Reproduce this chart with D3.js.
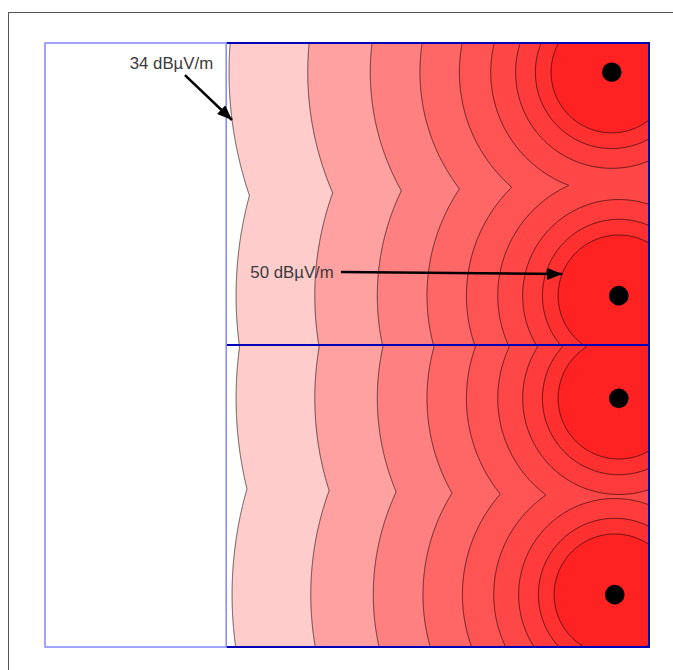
<!DOCTYPE html>
<html>
<head>
<meta charset="utf-8">
<script src="https://cdn.jsdelivr.net/npm/d3@7"></script>
<style>
  body { margin: 0; background: #fff; }
  text { font-family: "Liberation Sans", Arial, sans-serif; }
</style>
</head>
<body>
<script>
// transmitter sites (km) and field strength at 1 km (dBµV/m)
const siteX = [56.3, 57.0, 57.0, 56.6];
const siteY = [2.9, 25.1, 35.3, 54.8];
const siteLevel = [65.6, 65.6, 65.6, 65.6];

// contour levels (dBµV/m) and band fills
const levels = [34, 36, 38, 40, 42, 44, 46, 48, 50];
const fills = ['#ffcccc', '#ffa1a1', '#ff8080', '#ff6666', '#ff5454', '#ff4747', '#ff3b3b', '#ff3030', '#ff2222'];

// service area split lines (km)
const splitX = 18;
const splitY = 30;

// annotations
const labelText = ['34 dBµV/m', '50 dBµV/m'];
const labelLevel = [34, 50];
const labelX = [16.7, 20.4];
const labelY = [2.6, 23.3];
const labelAnchor = ['end', 'start'];
const arrowFromX = [13.9, 29.4];
const arrowFromY = [3.2, 22.75];
const arrowToY = [7.65, 22.95];

const W = 673, H = 670;
const x = d3.scaleLinear().domain([0, 60]).range([45, 649]);
const y = d3.scaleLinear().domain([0, 60]).range([43, 647]);

const svg = d3.select('body').append('svg')
  .attr('width', W)
  .attr('height', H);

svg.append('rect')
  .attr('x', 8.5).attr('y', 12.5)
  .attr('width', 700).attr('height', 700)
  .attr('fill', 'none')
  .attr('stroke', '#555');

function field (kx, ky) {
  let best = -Infinity;
  for (let i = 0; i < siteX.length; i++) {
    const d = Math.max(Math.hypot(kx - siteX[i], ky - siteY[i]), 0.05);
    best = Math.max(best, siteLevel[i] - 20 * Math.log10(d));
  }
  return best;
}

// sample the field, one cell per pixel
const nx = Math.round(x.range()[1] - x.range()[0]);
const ny = Math.round(y.range()[1] - y.range()[0]);
const values = new Float64Array(nx * ny);
for (let j = 0; j < ny; j++) {
  const ky = y.invert(y.range()[0] + j + 0.5);
  for (let i = 0; i < nx; i++) {
    values[j * nx + i] = field(x.invert(x.range()[0] + i + 0.5), ky);
  }
}

const contours = d3.contours().size([nx, ny]).thresholds(levels)(values);

const path = d3.geoPath(d3.geoTransform({
  point (px, py) { this.stream.point(x.range()[0] + px, y.range()[0] + py); }
}));

svg.append('g')
  .selectAll('path')
  .data(contours)
  .join('path')
  .attr('d', path)
  .attr('fill', (d, i) => fills[i])
  .attr('stroke', 'rgba(0,0,0,0.6)')
  .attr('stroke-width', 1);

// area outlines
svg.append('path')
  .attr('d', `M${x(splitX)},${y(0)}H${x(60)}V${y(60)}H${x(splitX)}M${x(splitX)},${y(splitY)}H${x(60)}`)
  .attr('fill', 'none')
  .attr('stroke', '#0000b8')
  .attr('stroke-width', 2);

svg.append('rect')
  .attr('x', x(0)).attr('y', y(0))
  .attr('width', x(splitX) - x(0))
  .attr('height', y(60) - y(0))
  .attr('fill', 'none')
  .attr('stroke', '#8c8cff')
  .attr('stroke-width', 1.6);

// transmitters
svg.append('g')
  .selectAll('circle')
  .data(siteX)
  .join('circle')
  .attr('cx', d => x(d))
  .attr('cy', (d, i) => y(siteY[i]))
  .attr('r', 9.8)
  .attr('fill', '#000');

// annotations
svg.append('defs').append('marker')
  .attr('id', 'head')
  .attr('markerUnits', 'userSpaceOnUse')
  .attr('markerWidth', 16).attr('markerHeight', 12)
  .attr('refX', 15).attr('refY', 6)
  .attr('orient', 'auto')
  .append('path')
  .attr('d', 'M0,0L15,6L0,12Z')
  .attr('fill', '#000');

function contourX (level, ky) {
  let lo = 0, hi = d3.max(siteX);
  for (let k = 0; k < 40; k++) {
    const mid = (lo + hi) / 2;
    if (field(mid, ky) < level) lo = mid; else hi = mid;
  }
  return (lo + hi) / 2;
}

labelText.forEach((t, i) => {
  svg.append('text')
    .attr('x', x(labelX[i]))
    .attr('y', y(labelY[i]))
    .attr('text-anchor', labelAnchor[i])
    .attr('font-size', 16.8)
    .attr('fill', '#3a3a3a')
    .text(t);

  svg.append('line')
    .attr('x1', x(arrowFromX[i]))
    .attr('y1', y(arrowFromY[i]))
    .attr('x2', x(contourX(labelLevel[i], arrowToY[i])))
    .attr('y2', y(arrowToY[i]))
    .attr('stroke', '#000')
    .attr('stroke-width', 2.5)
    .attr('marker-end', 'url(#head)');
});
</script>
</body>
</html>
